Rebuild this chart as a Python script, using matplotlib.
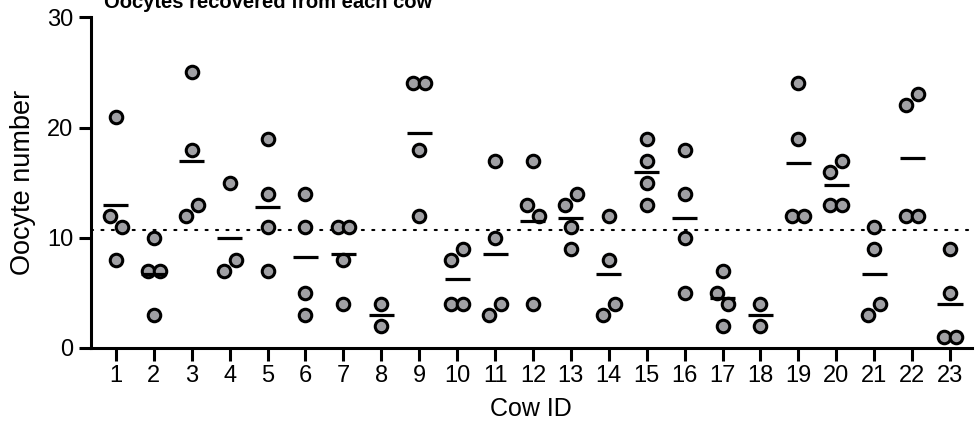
import numpy as np
import matplotlib
matplotlib.use("Agg")
import matplotlib.pyplot as plt

plt.rcParams["font.family"] = ["Liberation Sans", "DejaVu Sans"]

cow_ids = list(range(1, 24))
oocytes = [
    [21, 12, 11, 8],
    [10, 7, 7, 3],
    [25, 18, 12, 13],
    [15, 7, 8],
    [19, 14, 11, 7],
    [14, 11, 5, 3],
    [11, 11, 8, 4],
    [4, 2],
    [24, 24, 18, 12],
    [8, 9, 4, 4],
    [17, 10, 3, 4],
    [17, 13, 12, 4],
    [13, 14, 11, 9],
    [12, 8, 3, 4],
    [19, 17, 15, 13],
    [18, 14, 10, 5],
    [7, 5, 4, 2],
    [4, 2],
    [24, 19, 12, 12],
    [16, 17, 13, 13],
    [11, 9, 3, 4],
    [22, 23, 12, 12],
    [9, 5, 1, 1],
]

title = "Oocytes recovered from each cow"


def spread(vals, step=0.31):
    # Punkte, die sich ueberlappen, nebeneinander legen
    offs = []
    for i, v in enumerate(vals):
        grp = [j for j, w in enumerate(vals) if abs(w - v) <= 1]
        if len(grp) == 1:
            offs.append(0.0)
        else:
            r = grp.index(i)
            offs.append((r - (len(grp) - 1) / 2) * step)
    return offs


fig = plt.figure(figsize=(9.76, 4.30), dpi=100)
ax = fig.add_axes([90.5 / 976, 1 - 348 / 430, (972 - 90.5) / 976, (348 - 17.3) / 430])

all_vals = np.concatenate([np.array(v, dtype=float) for v in oocytes])
grand_mean = all_vals.mean()
ax.axhline(grand_mean, color="black", lw=1.5, linestyle=(0, (1, 4)),
           dash_capstyle="round", zorder=1)

for cid, vals in zip(cow_ids, oocytes):
    xs = cid + np.array(spread(vals))
    ax.plot(xs, vals, "o", ms=9, mfc="#a0a0a4", mec="black", mew=2.2,
            zorder=3, clip_on=False)
    m = np.mean(vals)
    ax.plot([cid - 0.33, cid + 0.33], [m, m], color="black", lw=2.3,
            solid_capstyle="butt", zorder=4)

ax.set_xlim(0.33, 23.58)
ax.set_ylim(0, 30)
ax.set_xticks(cow_ids)
ax.set_yticks([0, 10, 20, 30])

for s in ["top", "right"]:
    ax.spines[s].set_visible(False)
for s in ["left", "bottom"]:
    ax.spines[s].set_linewidth(2.2)
ax.tick_params(axis="both", length=9, width=2.2, labelsize=17, pad=3.5)

ax.set_xlabel("Cow ID", fontsize=18, labelpad=7)
ax.set_ylabel("Oocyte number", fontsize=19.5, labelpad=8)

fig.text(104 / 976, 1 - 8.5 / 430, title, fontsize=14.5, fontweight="bold",
         va="baseline", ha="left")

fig.savefig("out.png", dpi=100)
